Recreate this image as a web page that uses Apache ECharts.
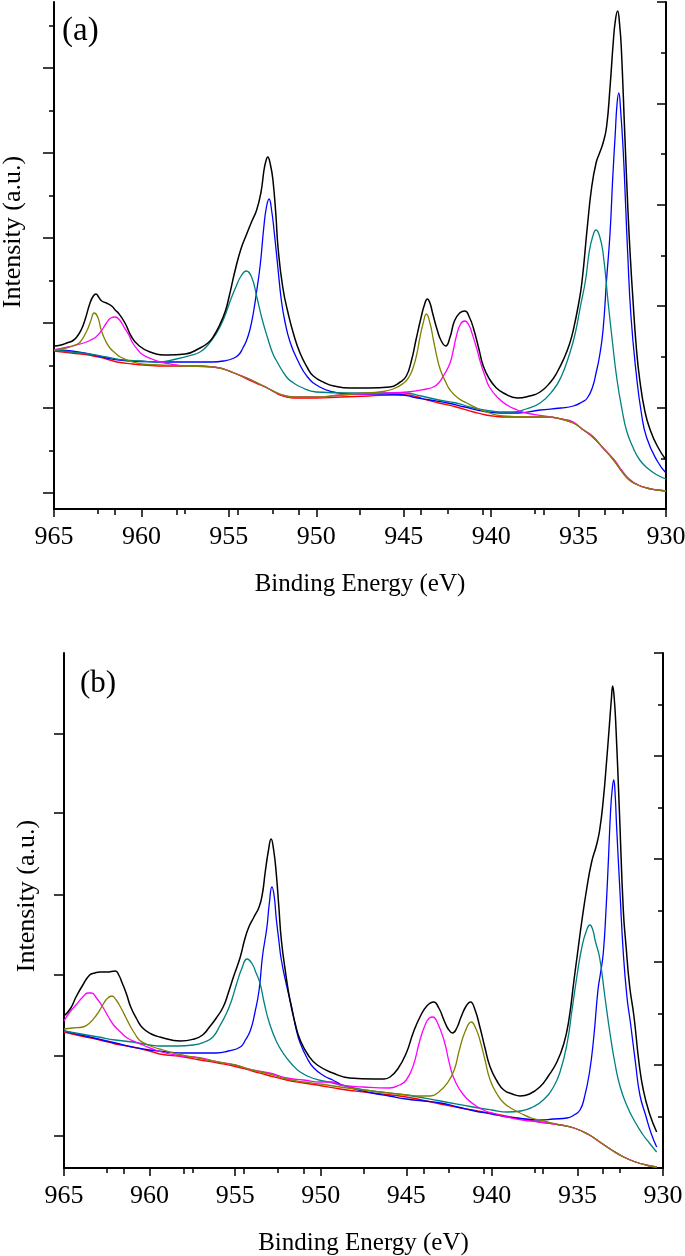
<!DOCTYPE html>
<html>
<head>
<meta charset="utf-8">
<script src="https://cdn.jsdelivr.net/npm/echarts@6/dist/echarts.min.js"></script>
<style>
html,body{margin:0;padding:0;background:#fff;}
#chart{width:685px;height:1256px;}
</style>
</head>
<body>
<div id="chart"></div>
<script>
// ---------- axis text ----------
const xTitle = 'Binding Energy (eV)';
const yTitle = 'Intensity (a.u.)';
const panelLabels = ['(a)', '(b)'];
const energyRange = [930, 965];

// ---------- panel (a) : [binding energy (eV), intensity (a.u.)] ----------
const aBackground = [[965,158],[964,156],[963,154],[962.75,153],[962,150],[961.4,147],[960.5,145],[959.9,144],[958.5,143],[957.6,143],[956.5,143],[955.9,142],[955.3,140],[954.7,136],[954.2,132],[953.6,127],[953.2,124],[952.8,121],[952.4,117],[952.1,114],[951.7,112],[951.3,111],[950,111],[948.6,112],[947,113],[945.5,114],[944.8,114],[944.2,112],[943.7,109],[943,106],[942,102],[941,97],[940.3,94],[939.7,92.5],[939.1,92],[938,92],[936.8,92],[936,90],[935.3,86],[934.8,80],[934.2,72],[933.6,61],[933,49],[932.5,37],[932.1,29],[931.6,24],[931.1,21],[930.5,19],[930,18]];
const aBlue = [[965,159],[964,158],[963,155],[962,151],[961,148.5],[960,147.5],[959,147],[957.5,147],[956,147],[955.3,148],[954.7,151],[954.4,155],[954.2,161],[954,168],[953.8,179],[953.6,196],[953.4,219],[953.2,245],[953,282],[952.85,302],[952.7,310],[952.55,298],[952.4,276],[952.2,242],[952,209],[951.8,188],[951.5,167],[951.1,150],[950.5,132],[949.8,122],[949,117],[948.1,115],[947,115],[946,115],[945,114],[944.5,112],[943.5,109],[942.5,106],[941.5,102],[940.5,98],[939.5,96],[938.5,96],[937.2,99],[936,101],[935.3,103],[934.8,107],[934.5,111],[934.2,122],[934,136],[933.8,153],[933.6,179],[933.4,229],[933.2,276],[933.05,330],[932.9,376],[932.8,405],[932.7,416],[932.6,400],[932.45,359],[932.3,300],[932.2,259],[932,192],[931.7,135],[931.4,95],[931.1,71],[930.5,48],[930,36]];
const aTeal = [[965,159],[964,157],[963,155],[962,152],[961,149],[960,148],[959.1,147],[958,150],[957.3,153],[956.65,157],[956.2,164],[955.7,176],[955.3,190],[954.9,209],[954.6,222],[954.3,233],[954,238],[953.7,232],[953.4,212],[953.1,190],[952.8,172],[952.5,156],[952.3,149],[951.7,132],[951.3,126],[950.9,122],[950,117],[948.1,116],[946.5,116],[945,116],[944,113],[943,109],[942,106],[941,101],[940,98],[939.5,97],[938.8,97],[938,100],[937.2,106],[936.45,119],[936,132],[935.5,156],[935.2,175],[934.9,202],[934.6,229],[934.4,256],[934.2,272],[934,279],[933.8,273],[933.6,256],[933.3,205],[933.05,165],[932.8,129],[932.5,98],[932.25,78],[931.9,62],[931.5,49],[931,40],[930.5,34],[930,30]];
const aOlive = [[965,159],[964.3,161],[963.8,164],[963.5,167],[963.1,179],[962.9,188],[962.7,196],[962.5,192],[962.3,179],[962.05,168],[961.8,161],[961.5,156],[961.2,152],[960.5,147],[960,145],[959,144],[957.6,143],[955.9,142],[954.7,136],[953.6,128],[952.8,121],[952.1,115],[951.3,112],[950,112],[948.6,114],[947.2,116],[946.4,117],[945.6,120],[945,126],[944.7,132],[944.45,142],[944.25,155],[944.1,169],[943.9,185],[943.7,195],[943.5,186],[943.3,169],[943.1,152],[942.9,139],[942.6,127],[942.35,119],[941.9,111],[941.4,106],[940.7,100],[940.1,96],[939.3,93],[938,92],[936.8,92],[936,90],[935.3,86],[934.8,80],[934.2,72],[933.6,61],[933,49],[932.5,37],[932.1,29],[931.6,24],[931.1,21],[930.5,19],[930,18]];
const aMagenta = [[965,159],[964.2,162],[963.3,166],[962.9,169],[962.6,172],[962.3,178],[962,186],[961.75,191],[961.5,192],[961.25,189],[961,182],[960.75,175],[960.5,166],[960.2,159],[959.9,154],[959.4,150],[958.9,147],[958,144],[957.6,143],[955.9,142],[954.7,136],[953.6,128],[952.8,121],[952.1,115],[951.3,112],[950,112],[948.6,114],[946,116],[944.8,117],[943.7,120],[943.3,122],[943,126],[942.7,134],[942.35,146],[942.15,160],[942,172],[941.75,185],[941.5,188],[941.25,183],[941.1,176],[940.85,162],[940.6,146],[940.35,133],[940.1,122],[939.6,111],[939.1,104],[938.5,99],[938,96],[937,93],[936,90],[935.3,87],[934.8,80],[934.2,73],[933.6,61],[933,50],[932.5,38],[932.1,30],[931.6,24],[931.1,21],[930.5,19],[930,18]];
const aTotal = [[965,163],[964.6,164],[964.27,166],[963.95,168],[963.7,172],[963.45,179],[963.23,189],[962.94,206],[962.75,213],[962.6,215],[962.45,212],[962.27,208],[962,206],[961.7,203],[961.5,199],[961.32,196],[960.94,186],[960.56,172],[960.18,164],[959.51,157],[958.5,154],[957.5,155],[956.65,161],[956.2,166],[955.9,172],[955.5,185],[955.2,198],[954.99,212],[954.65,238],[954.31,260],[953.98,275],[953.68,288],[953.41,299],[953.16,317],[952.99,339],[952.88,348],[952.78,352],[952.62,344],[952.48,329],[952.31,294],[952.19,262],[951.92,222],[951.6,195],[951.3,175],[950.93,156],[950.5,141],[950.17,133],[949.5,126],[949,123],[948.07,121],[947,121],[945.8,122],[945.2,127],[944.85,133],[944.55,149],[944.3,169],[944,192],[943.8,205],[943.65,210],[943.5,206],[943.35,196],[943.1,180],[942.85,168],[942.6,163],[942.35,172],[942.1,188],[941.8,196],[941.5,198],[941.25,192],[941,180],[940.7,160],[940.45,143],[940.1,130],[939.7,121],[939.3,116],[938.5,111],[937.8,113],[937.2,117],[936.6,127],[936.25,136],[935.8,152],[935.5,166],[935.3,179],[935,205],[934.8,228],[934.5,282],[934.25,322],[934,346],[933.8,356],[933.6,366],[933.4,382],[933.2,422],[933.02,466],[932.9,488],[932.77,498],[932.65,484],[932.55,459],[932.36,376],[932.17,296],[932.03,249],[931.9,212],[931.7,162],[931.5,129],[931.2,97],[930.9,79],[930.5,63],[930,49]];
const aLeftMajor = [16,101,186,271,356,441];
const aLeftMinor = [58,143,228,313,398,483];

// ---------- panel (b) ----------
const bBackground = [[965,136],[964,132],[962.9,128],[962,124],[961,121],[960,117],[959.4,114],[958,111],[957.05,108],[956,105],[955.1,102],[954,97],[953.15,93],[952,88],[951,85],[950.2,83],[948.87,79],[947,75],[945,71],[943,64],[941.5,59],[940.1,55],[938.5,50],[937.2,46],[936,43],[935.2,40],[934.4,34],[933.7,26],[933,18],[932.3,11],[931.6,6],[931,3],[930.37,1]];
const bBlue = [[965,137],[964,133],[963,129],[962,125],[961,121],[960,118],[959,116],[958,115],[957,115],[956.1,115],[955.4,117],[954.7,121],[954.4,128],[954.1,138],[953.85,155],[953.6,178],[953.4,212],[953.15,240],[953,265],[952.85,281],[952.72,272],[952.6,250],[952.45,228],[952.3,208],[952,183],[951.7,161],[951.45,140],[951.2,125],[950.8,110],[950.4,100],[949.8,92],[949.3,88],[948.87,84],[948,79],[947,75],[946,72],[945,69],[944,67],[943,65],[942,61],[941,57],[940,54],[939.1,51],[938,49],[937.2,48],[936.4,49],[935.6,50],[935.2,53],[934.85,58],[934.6,70],[934.3,95],[934.05,130],[933.8,178],[933.65,195],[933.49,215],[933.33,258],[933.19,308],[933.06,358],[932.96,380],[932.88,388],[932.8,375],[932.71,341],[932.51,275],[932.32,215],[932.1,170],[931.9,145],[931.6,104],[931.35,73],[931,52],[930.7,35],[930.37,21]];
const bTeal = [[965,137],[964,134],[963,131],[962,128],[961,126],[960,123],[959.4,122],[958.4,122],[957.45,123],[956.8,126],[956.3,131],[955.9,142],[955.5,155],[955.2,168],[954.9,185],[954.6,200],[954.3,209],[954,204],[953.8,196],[953.55,185],[953.3,165],[953,145],[952.6,127],[952.2,115],[951.7,104],[951.2,96],[950.5,90],[949.3,85],[948.3,81],[947,77],[945,73],[943,67],[941.1,61],[940,58],[939.1,56],[938.3,57],[937.6,61],[937,68],[936.4,81],[936,97],[935.6,125],[935.3,160],[935,195],[934.75,220],[934.5,236],[934.27,243],[934.1,238],[933.97,228],[933.7,210],[933.4,172],[933.1,135],[932.8,104],[932.5,81],[932.1,62],[931.7,48],[931.2,34],[930.8,25],[930.37,16]];
const bMagenta = [[965,147],[964.7,155],[964.3,163],[963.9,171],[963.6,175],[963.4,175],[963.1,170],[962.7,160],[962.4,151],[962.1,143],[961.7,136],[961.3,130],[960.8,126],[960.4,123],[959.5,117],[958.5,113],[957,110],[956,106],[955,103],[954,98],[953,95],[952,90],[951,88],[950,86],[949.3,86],[948.87,83],[947.5,81],[946,80],[945.4,83],[945,88],[944.6,102],[944.2,128],[943.9,143],[943.65,150],[943.45,151],[943.2,146],[942.8,128],[942.5,106],[942.25,91],[941.9,79],[941.5,70],[941,63],[940.5,58],[939.8,54],[939.1,51],[938.2,48],[937.2,46],[936,43],[935.2,40],[934.4,34],[933.7,26],[933,18],[932.3,11],[931.6,6],[931,3],[930.37,1]];
const bOlive = [[965,139],[964.5,140],[963.9,141],[963.5,145],[963.1,153],[962.8,161],[962.5,169],[962.2,172],[961.95,168],[961.7,161],[961.4,151],[961.1,141],[960.85,134],[960.6,128],[960.2,124],[959.8,121],[959.2,118],[958.6,115],[957.5,111],[956,106],[955,103],[954,98],[953,94],[952,89],[951,86],[950,84],[948.87,81],[947,77],[945,73],[944.2,72],[943.6,72],[943.1,76],[942.6,85],[942.2,98],[941.9,118],[941.55,137],[941.2,146],[940.95,140],[940.7,128],[940.4,108],[940.1,88],[939.7,74],[939.3,65],[938.8,59],[938.35,55],[937.7,50],[937.2,48],[936,43],[935.2,40],[934.4,34],[933.7,26],[933,18],[932.3,11],[931.6,6],[931,3],[930.37,1]];
const bTotal = [[965,152],[964.6,160],[964.3,171],[963.9,183],[963.5,193],[963.2,195],[962.9,196],[962.5,196],[962,197],[961.8,193],[961.6,185],[961.35,174],[961.1,161],[960.75,149],[960.4,140],[959.9,134],[959.4,131],[958.2,127],[957.4,129],[956.9,133],[956.5,141],[956.1,150],[955.7,161],[955.4,175],[955.1,191],[954.7,211],[954.45,228],[954.2,241],[953.9,251],[953.6,261],[953.4,275],[953.25,295],[953.05,318],[952.9,329],[952.75,318],[952.6,295],[952.45,262],[952.3,228],[952.05,195],[951.8,168],[951.5,145],[951.2,128],[950.7,112],[950.2,103],[949.3,95],[948.3,90],[946.9,89],[946.3,89],[945.95,91],[945.5,99],[945,115],[944.6,135],[944.2,151],[943.8,162],[943.4,166],[943.1,160],[942.8,148],[942.55,139],[942.3,135],[942.05,140],[941.8,151],[941.5,162],[941.25,166],[941,159],[940.7,141],[940.4,120],[940.1,101],[939.7,87],[939.3,78],[938.8,74],[938.35,72],[937.8,74],[937.2,81],[936.7,92],[936.2,106],[935.8,124],[935.5,148],[935.2,188],[935,214],[934.75,246],[934.46,279],[934.17,306],[933.9,322],[933.7,338],[933.49,368],[933.29,408],[933.14,441],[933.02,468],[932.94,482],[932.85,470],[932.75,441],[932.55,358],[932.32,258],[932.16,222],[931.95,182],[931.7,152],[931.4,105],[931.15,78],[930.8,55],[930.37,36]];
const bLeftMajor = [32,112,193,273,355,434];

// ---------- chart ----------
const FONT = "'Liberation Serif','Times New Roman',serif";
const COL = {black:'#000000', blue:'#0000ff', teal:'#008080', olive:'#808000', magenta:'#ff00ff', red:'#ff0000'};
const frame = {show:true, lineStyle:{color:'#000', width:2}};

function bottomX(grid){
  return {
    type:'value', gridIndex:grid, position:'bottom', inverse:true,
    min:energyRange[0], max:energyRange[1], interval:5,
    axisLine:frame,
    axisTick:{show:true, inside:false, length:8, lineStyle:{color:'#000', width:1.5}},
    minorTick:{show:true, splitNumber:2, length:5, lineStyle:{color:'#000', width:1.5}},
    axisLabel:{show:true, color:'#000', fontFamily:FONT, fontSize:26, margin:15, showMinLabel:true, showMaxLabel:true},
    splitLine:{show:false}, minorSplitLine:{show:false},
    name:xTitle, nameLocation:'middle', nameGap:63,
    nameTextStyle:{color:'#000', fontFamily:FONT, fontSize:25}
  };
}
function topX(grid){
  return {
    type:'value', gridIndex:grid, position:'top', min:0, max:10, interval:1,
    axisLine:frame,
    axisTick:{show:true, inside:true, length:6, lineStyle:{color:'#000', width:1.5}},
    axisLabel:{show:false}, splitLine:{show:false}
  };
}
function leftY(grid, max, ticks, len, showLine){
  return {
    type:'value', gridIndex:grid, position:'left', min:0, max:max,
    axisLine: showLine ? frame : {show:false},
    axisTick:{show:true, inside:false, length:len, customValues:ticks, lineStyle:{color:'#000', width:1.5}},
    axisLabel:{show:false}, splitLine:{show:false}
  };
}
function rightY(grid){
  return {
    type:'value', gridIndex:grid, position:'right', min:0, max:10, interval:2,
    axisLine:frame,
    axisTick:{show:true, inside:true, length:9, lineStyle:{color:'#000', width:1.5}},
    minorTick:{show:true, splitNumber:2, length:5, lineStyle:{color:'#000', width:1.5}},
    axisLabel:{show:false}, splitLine:{show:false}, minorSplitLine:{show:false}
  };
}
function line(name, data, color, xi, yi, w){
  return {
    name:name, type:'line', data:data, xAxisIndex:xi, yAxisIndex:yi,
    showSymbol:false, symbol:'none', smooth:0.5,
    lineStyle:{color:color, width:w||1.3}, itemStyle:{color:color},
    silent:true, z:3
  };
}

const chart = echarts.init(document.getElementById('chart'), null, {renderer:'canvas'});
chart.setOption({
  animation:false,
  backgroundColor:'#ffffff',
  grid:[
    {left:54, top:2, width:612, height:507, containLabel:false, outerBoundsMode:'none'},
    {left:64, top:653, width:599, height:515, containLabel:false, outerBoundsMode:'none'}
  ],
  xAxis:[ bottomX(0), topX(0), bottomX(1), topX(1) ],
  yAxis:[
    leftY(0, 507, aLeftMajor, 11, true),
    leftY(0, 507, aLeftMinor, 5, false),
    rightY(0),
    leftY(1, 515, bLeftMajor, 10, true),
    rightY(1)
  ],
  series:[
    line('a-bg', aBackground, COL.red, 0, 0),
    line('a-blue', aBlue, COL.blue, 0, 0),
    line('a-teal', aTeal, COL.teal, 0, 0),
    line('a-magenta', aMagenta, COL.magenta, 0, 0),
    line('a-olive', aOlive, COL.olive, 0, 0),
    line('a-total', aTotal, COL.black, 0, 0, 1.5),
    line('b-bg', bBackground, COL.red, 2, 3),
    line('b-blue', bBlue, COL.blue, 2, 3),
    line('b-teal', bTeal, COL.teal, 2, 3),
    line('b-magenta', bMagenta, COL.magenta, 2, 3),
    line('b-olive', bOlive, COL.olive, 2, 3),
    line('b-total', bTotal, COL.black, 2, 3, 1.5)
  ],
  graphic:[
    {type:'text', x:62, y:31, style:{text:panelLabels[0], font:"33px "+FONT, fill:'#000', textVerticalAlign:'middle', textAlign:'left'}},
    {type:'text', x:80, y:684, style:{text:panelLabels[1], font:"31px "+FONT, fill:'#000', textVerticalAlign:'middle', textAlign:'left'}},
    {type:'text', x:13, y:232, rotation:Math.PI/2, style:{text:yTitle, font:"26px "+FONT, fill:'#000', textAlign:'center', textVerticalAlign:'middle'}},
    {type:'text', x:27, y:896, rotation:Math.PI/2, style:{text:yTitle, font:"26px "+FONT, fill:'#000', textAlign:'center', textVerticalAlign:'middle'}}
  ]
});
</script>
</body>
</html>
